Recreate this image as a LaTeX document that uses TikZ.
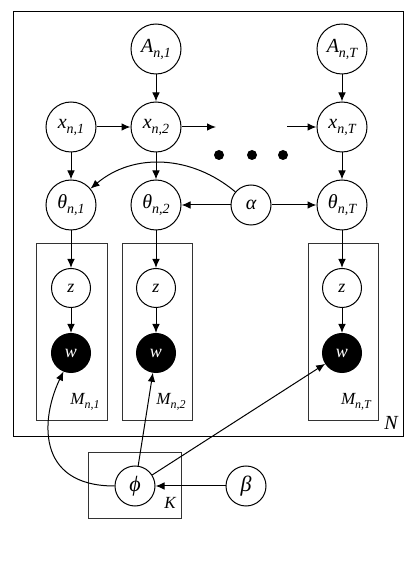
\documentclass[tikz,border=0pt]{standalone}
\usepackage{fontspec}
\setmainfont{Liberation Serif}
\usetikzlibrary{arrows.meta}
\newcommand\mysub[1]{\raisebox{-5pt}{\fontsize{14}{14}\selectfont\itshape #1}}
\newcommand\mysubs[1]{\raisebox{-4pt}{\fontsize{12}{12}\selectfont\itshape #1}}
\begin{document}
\begin{tikzpicture}[x=1pt,y=1pt,
  var/.style={circle,draw,line width=1pt,minimum size=50pt,inner sep=0pt,font=\fontsize{20}{22}\selectfont\itshape},
  hyp/.style={var,minimum size=40pt,font=\fontsize{22}{24}\selectfont\itshape},
  small/.style={circle,draw,line width=1pt,minimum size=39pt,inner sep=0pt,font=\fontsize{18}{20}\selectfont\itshape},
  obs/.style={small,fill=black,text=white},
  plate/.style={draw=black!80,line width=0.9pt},
  arr/.style={-{Latex[length=9pt,width=7.5pt]},line width=1pt},
  dotn/.style={circle,fill=black,minimum size=10pt,inner sep=0pt},
  lab/.style={inner sep=0pt,font=\fontsize{17}{20}\selectfont\itshape}]
\useasboundingbox (0,0) rectangle (415,563);
% outer plate
\draw[line width=1pt] (13,126) rectangle (403,551);
\node[lab,font=\fontsize{20}{22}\selectfont\itshape] (Nl) at (391,140) {N};
% inner plates
\draw[plate] (36,143) rectangle (107,320);
\draw[plate] (122,143) rectangle (192,320);
\draw[plate] (308,143) rectangle (378,320);
\node[lab] (M1) at (85,161) {M\mysubs{n,1}};
\node[lab] (M2) at (171,161) {M\mysubs{n,2}};
\node[lab] (MT) at (356,161) {M\mysubs{n,T}};
% K plate
\draw[plate] (88,45) rectangle (181,111);
\node[lab] (Kl) at (170,60) {K};
% nodes
\node[var] (A1) at (156,514) {A\mysub{n,1}};
\node[var] (AT) at (342,514) {A\mysub{n,T}};
\node[var] (x1) at (71,436) {x\mysub{n,1}};
\node[var] (x2) at (156,436) {x\mysub{n,2}};
\node[var] (xT) at (342,436) {x\mysub{n,T}};
\node[dotn] (d1) at (219,408) {};
\node[dotn] (d2) at (252,408) {};
\node[dotn] (d3) at (283,408) {};
\coordinate (e1) at (216,436);
\coordinate (e2) at (287,436);
\node[var] (th1) at (71,358) {θ\mysub{n,1}};
\node[var] (th2) at (156,358) {θ\mysub{n,2}};
\node[var] (thT) at (342,358) {θ\mysub{n,T}};
\node[hyp,font=\fontsize{20}{22}\selectfont\itshape] (al) at (251,358) {α};
\node[small] (z1) at (71,275) {z};
\node[small] (z2) at (156,275) {z};
\node[small] (zT) at (342,275) {z};
\node[obs] (w1) at (71,210) {w};
\node[obs] (w2) at (156,210) {w};
\node[obs] (wT) at (342,210) {w};
\node[hyp] (phi) at (135,77) {ϕ};
\node[hyp] (be) at (246,77) {β};
% edges
\draw[arr] (A1) -- (x2);
\draw[arr] (AT) -- (xT);
\draw[arr] (x1) -- (x2);
\draw[arr] (x2) -- (e1);
\draw[arr] (e2) -- (xT);
\draw[arr] (x1) -- (th1);
\draw[arr] (x2) -- (th2);
\draw[arr] (xT) -- (thT);
\draw[arr] (al) -- (th2);
\draw[arr] (al) -- (thT);
\draw[arr] (al) to[out=140,in=40] (th1);
\draw[arr] (th1) -- (z1);
\draw[arr] (z1) -- (w1);
\draw[arr] (th2) -- (z2);
\draw[arr] (z2) -- (w2);
\draw[arr] (thT) -- (zT);
\draw[arr] (zT) -- (wT);
\draw[arr] (phi.west) .. controls +(-80,0) and +(-22,-45) .. (w1.-112);
\draw[arr] (phi) -- (w2);
\draw[arr] (phi) -- (wT);
\draw[arr] (be) -- (phi);
\end{tikzpicture}
\end{document}
